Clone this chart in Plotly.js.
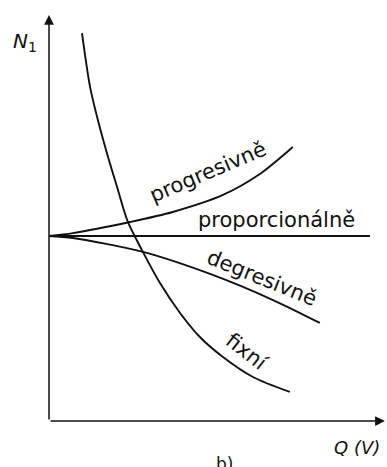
<!DOCTYPE html>
<html>
<head>
<meta charset="utf-8">
<script src="https://cdn.plot.ly/plotly-3.0.1.min.js"></script>
<style>
  html, body { margin: 0; padding: 0; background: #fff; }
  #chart { width: 387px; height: 467px; }
</style>
</head>
<body>
<div id="chart"></div>
<script>
// Unit cost N1 against output Q(V) for four cost behaviours
const proporcionalneQ = [0, 10.7];
const proporcionalneN = [10, 10];

const progresivneQ = [0, 0.8, 2.7, 4.13, 5.8, 7.03, 8.13];
const progresivneN = [10, 10.16, 10.76, 11.3, 12.22, 13.35, 14.81];

const degresivneQ = [0, 0.8, 3.13, 5.37, 7.47, 9.03];
const degresivneN = [10, 9.89, 9.14, 7.95, 6.54, 5.3];

const fixniQ = [1.1, 1.37, 1.63, 1.93, 2.27, 2.63, 3.1, 3.7, 4.37, 5.03, 5.8, 6.8, 8.03];
const fixniN = [20.97, 18.05, 16.27, 14.49, 12.65, 10.76, 9.24, 7.46, 5.84, 4.54, 3.46, 2.38, 1.57];

const curveLabels = ['progresivně', 'proporcionálně', 'degresivně', 'fixní'];
const axisMax = { q: 11.2, n: 21.95 };

const ink = '#111';
const lineStyle = { color: ink, width: 1.9, shape: 'spline', smoothing: 0.8 };

function curve(q, n) {
  return { x: q, y: n, type: 'scatter', mode: 'lines', line: lineStyle,
           hoverinfo: 'skip', showlegend: false, cliponaxis: false };
}

const traces = [
  curve(proporcionalneQ, proporcionalneN),
  curve(progresivneQ, progresivneN),
  curve(degresivneQ, degresivneN),
  curve(fixniQ, fixniN)
];

const labelFont = { family: 'DejaVu Sans', size: 21, color: ink };

function label(text, x, y, angle) {
  return { text: text, x: x, y: y, xref: 'x', yref: 'y', showarrow: false,
           textangle: angle, font: labelFont };
}

function axisArrow(x, y) {
  return { x: x, y: y, ax: 0, ay: 0, xref: 'x', yref: 'y', axref: 'x', ayref: 'y',
           text: '', showarrow: true, arrowhead: 2, arrowsize: 1.3,
           arrowwidth: 1.5, arrowcolor: ink, standoff: 0, startstandoff: 0 };
}

function paperText(text, x, y, size, yanchor) {
  return { text: text, x: x, y: y, xref: 'paper', yref: 'paper',
           xanchor: 'center', yanchor: yanchor, showarrow: false,
           font: { family: 'DejaVu Sans', size: size, color: ink } };
}

const annotations = [
  axisArrow(axisMax.q, 0),
  axisArrow(0, axisMax.n),
  label(curveLabels[0], 5.3, 13.45, -23),
  label(curveLabels[1], 7.6, 10.85, 0),
  label(curveLabels[2], 7.1, 7.75, 22),
  label(curveLabels[3], 6.6, 3.75, 38),
  paperText('<i>N</i><sub>1</sub>', -0.071, 0.9, 20, 'middle'),
  paperText('<i>Q (V)</i>', 0.912, -0.064, 18, 'middle'),
  paperText('b)', 0.518, -0.074, 17, 'top')
];

const layout = {
  width: 387,
  height: 467,
  margin: { l: 49, r: 0, t: 0, b: 46, pad: 0 },
  paper_bgcolor: '#fff',
  plot_bgcolor: '#fff',
  xaxis: { range: [0, 11.27], visible: false, fixedrange: true },
  yaxis: { range: [0, 22.76], visible: false, fixedrange: true },
  annotations: annotations,
  showlegend: false
};

Plotly.newPlot('chart', traces, layout, { staticPlot: true, displayModeBar: false });
</script>
</body>
</html>
